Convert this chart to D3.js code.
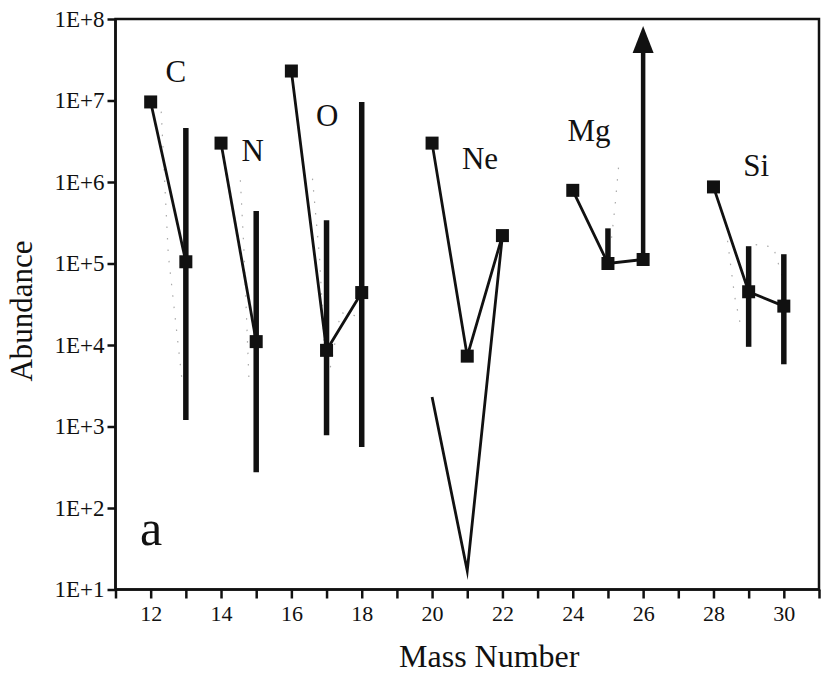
<!DOCTYPE html>
<html>
<head>
<style>
    body { margin: 0; background: #fff; }
    svg text { font-family: "Liberation Serif", "Times New Roman", Times, "DejaVu Serif", serif !important; fill: #111; }
    .axis path, .axis line { stroke: #111; stroke-width: 2.5; }
    .axis text { font-size: 23px; }
</style>
<script src="https://d3js.org/d3.v7.min.js"></script>
</head>
<body>

<svg width="830" height="677"></svg>

<script>

    // Mass numbers and abundances of the measured isotopes, one group per element
    var elements = ["C", "N", "O", "Ne", "Mg", "Si"];
    var masses = [[12, 13], [14, 15], [16, 17, 18], [20, 21, 22], [24, 25, 26], [28, 29, 30]];
    var abundances = [
        [9.6e6, 1.05e5],
        [3.0e6, 1.1e4],
        [2.3e7, 8.6e3, 4.4e4],
        [3.0e6, 7.3e3, 2.2e5],
        [7.9e5, 1.0e5, 1.12e5],
        [8.7e5, 4.5e4, 3.0e4]
    ];

    // error bars (low, high)
    var errMass = [13, 15, 17, 18, 25, 29, 30];
    var errLow  = [1.2e3, 2.75e2, 7.8e2, 5.6e2, 1.0e5, 9.5e3, 5.8e3];
    var errHigh = [4.6e6, 4.4e5, 3.4e5, 9.6e6, 2.7e5, 1.63e5, 1.3e5];

    // Ne lower-limit curve
    var neLowMass = [20, 21, 22];
    var neLowVal  = [2.3e3, 17, 2.2e5];

    // Mg-26 upper limit arrow
    var arrowMass = 26;
    var arrowFrom = 1.12e5;
    var arrowTo = 8.2e7;

    // faint dotted traces
    var faintMass = [[12.3, 12.5, 12.9], [14.55, 14.65, 14.8], [16.6, 16.8, 17.0, 17.4, 18.0], [25.3, 25.2, 25.1], [28.4, 28.6, 28.8], [29.2, 29.7, 30.0]];
    var faintVal  = [[7.3e6, 1.3e5, 3.4e3], [1.05e6, 1.5e5, 3.2e3], [1.1e6, 1.2e5, 3e3, 2.5e4, 2.2e4], [1.5e6, 5e5, 2e5], [1.9e5, 4e4, 1.5e4], [1.7e5, 1.6e5, 6e4]];

    // element labels, positioned in data space
    var labelMass = [12.42, 14.58, 16.7, 20.85, 23.85, 28.85];
    var labelVal  = [1.7e7, 1.8e6, 4.8e6, 1.45e6, 3.2e6, 1.2e6];

    var yTicks = [1e1, 1e2, 1e3, 1e4, 1e5, 1e6, 1e7, 1e8];
    var xTicks = d3.range(11, 32);

    var serif = "'Liberation Serif', 'Times New Roman', Times, serif";

    var svg = d3.select("svg");

    var xScale = d3.scaleLinear()
        .domain([11, 31])
        .range([115.5, 819]);

    var yScale = d3.scaleLog()
        .domain([10, 1e8])
        .range([589.5, 19]);

    // frame
    svg.append("rect")
        .attr("x", xScale(11))
        .attr("y", yScale(1e8))
        .attr("width", xScale(31) - xScale(11))
        .attr("height", yScale(10) - yScale(1e8))
        .attr("fill", "none")
        .attr("stroke", "#111")
        .attr("stroke-width", 2.5);

    var xAxis = d3.axisBottom(xScale)
        .tickValues(xTicks)
        .tickSize(9)
        .tickPadding(7)
        .tickFormat(function (d) { return (d % 2 === 0) ? d : ""; });

    var yAxis = d3.axisLeft(yScale)
        .tickValues(yTicks)
        .tickSize(8)
        .tickPadding(3)
        .tickFormat(function (d) { return "1E+" + Math.round(Math.log10(d)); });

    svg.append("g")
        .attr("class", "axis")
        .attr("transform", "translate(0," + yScale(10) + ")")
        .call(xAxis)
        .attr("font-family", serif)
        .call(function (g) { g.select(".domain").attr("d", "M" + xScale(11) + ",0H" + xScale(31)); })
        .selectAll("text").style("font-size", "22px");

    svg.append("g")
        .attr("class", "axis")
        .attr("transform", "translate(" + xScale(11) + ",0)")
        .call(yAxis)
        .attr("font-family", serif)
        .call(function (g) { g.select(".domain").attr("d", "M0," + yScale(1e8) + "V" + yScale(10)); });

    // axis titles
    svg.append("text")
        .attr("x", (xScale(11) + xScale(31)) / 2 + 22)
        .attr("y", 667)
        .attr("text-anchor", "middle")
        .style("font-size", "32px")
        .text("Mass Number");

    svg.append("text")
        .attr("transform", "translate(32,311) rotate(-90)")
        .attr("text-anchor", "middle")
        .style("font-size", "31px")
        .text("Abundance");

    // panel letter
    svg.append("text")
        .attr("x", xScale(11.7))
        .attr("y", yScale(35))
        .style("font-size", "50px")
        .text("a");

    var line = d3.line()
        .x(function (d) { return xScale(d[0]); })
        .y(function (d) { return yScale(d[1]); });

    // faint dotted traces
    faintMass.forEach(function (ms, i) {
        svg.append("path")
            .attr("d", line(ms.map(function (m, j) { return [m, faintVal[i][j]]; })))
            .attr("fill", "none")
            .attr("stroke", "#aaa")
            .attr("stroke-width", 1.2)
            .attr("stroke-dasharray", "1.5,10");
    });

    // error bars
    svg.selectAll(".err")
        .data(errMass)
        .enter()
        .append("line")
        .attr("class", "err")
        .attr("x1", function (d) { return xScale(d); })
        .attr("x2", function (d) { return xScale(d); })
        .attr("y1", function (d, i) { return yScale(errLow[i]); })
        .attr("y2", function (d, i) { return yScale(errHigh[i]); })
        .attr("stroke", "#111")
        .attr("stroke-width", 5.5);

    // Mg-26 arrow
    var headLen = 27, headHalf = 10.5;
    var tipY = yScale(arrowTo);
    svg.append("line")
        .attr("x1", xScale(arrowMass))
        .attr("x2", xScale(arrowMass))
        .attr("y1", yScale(arrowFrom))
        .attr("y2", tipY + headLen - 2)
        .attr("stroke", "#111")
        .attr("stroke-width", 4.5);
    svg.append("path")
        .attr("d", "M" + xScale(arrowMass) + "," + tipY +
            "L" + (xScale(arrowMass) + headHalf) + "," + (tipY + headLen) +
            "L" + (xScale(arrowMass) - headHalf) + "," + (tipY + headLen) + "Z")
        .attr("fill", "#111");

    // Ne lower curve
    svg.append("path")
        .attr("d", line(neLowMass.map(function (m, j) { return [m, neLowVal[j]]; })))
        .attr("fill", "none")
        .attr("stroke", "#111")
        .attr("stroke-width", 2.8)
        .attr("stroke-linejoin", "miter")
        .attr("stroke-miterlimit", 20);

    // connecting lines and squares
    masses.forEach(function (ms, i) {
        var pts = ms.map(function (m, j) { return [m, abundances[i][j]]; });
        svg.append("path")
            .attr("d", line(pts))
            .attr("fill", "none")
            .attr("stroke", "#111")
            .attr("stroke-width", 2.8);

        svg.selectAll(".sq" + i)
            .data(pts)
            .enter()
            .append("rect")
            .attr("class", "sq" + i)
            .attr("x", function (d) { return xScale(d[0]) - 6.5; })
            .attr("y", function (d) { return yScale(d[1]) - 6.5; })
            .attr("width", 13)
            .attr("height", 13)
            .attr("fill", "#111");
    });

    // element labels
    svg.selectAll(".elabel")
        .data(elements)
        .enter()
        .append("text")
        .attr("class", "elabel")
        .attr("x", function (d, i) { return xScale(labelMass[i]); })
        .attr("y", function (d, i) { return yScale(labelVal[i]); })
        .style("font-size", "31px")
        .text(function (d) { return d; });

    svg.selectAll("text").attr("font-family", serif);

</script>
</body>
</html>
